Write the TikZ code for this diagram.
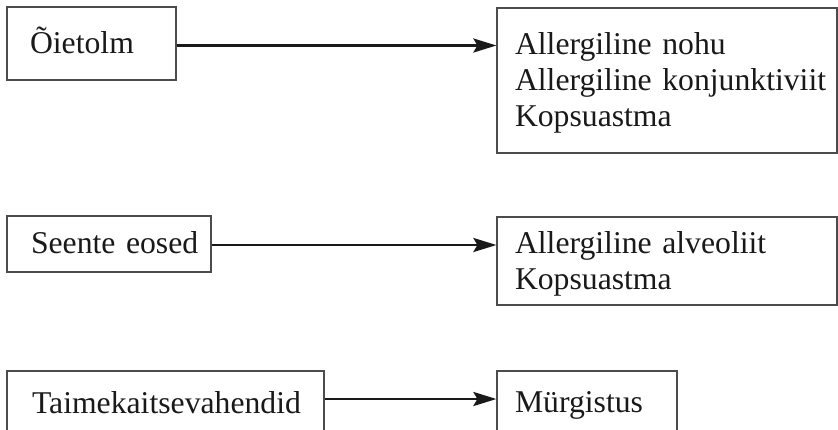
\documentclass[tikz,border=0pt]{standalone}
\usepackage{fontspec}
\setmainfont{Liberation Serif}
\usetikzlibrary{arrows.meta}
\begin{document}
\begin{tikzpicture}[x=1pt,y=-1pt,
  font=\fontsize{31.7}{36}\selectfont,
  box/.style={shape=rectangle,draw=black!70,line width=1.2pt,text=black!90,align=left,inner ysep=0pt},
  link/.style={line width=2.6pt,black!90,-{Stealth[length=23pt,width=14pt,inset=4pt]}}]
 \useasboundingbox (0,0) rectangle (838,429);
 \clip (0,0) rectangle (838,429);
 \node (src 1) at (91.5,43.5) [box,inner xsep=23pt,text width=123pt,text height=46pt,text depth=27pt] {Õietolm};
 \node (eff 1) at (667,80.5) [box,inner xsep=18pt,text width=304pt,text height=46pt,text depth=99pt] {Allergiline nohu\\\mbox{Allergiline konjunktiviit}\\Kopsuastma};
 \node (src 2) at (109,244) [box,inner xsep=24pt,text width=156pt,text height=37pt,text depth=19pt] {\mbox{Seente eosed}};
 \node (eff 2) at (667,261) [box,inner xsep=18pt,text width=304pt,text height=36pt,text depth=52pt] {Allergiline alveoliit\\Kopsuastma};
 \node (src 3) at (165.5,401) [box,inner xsep=25pt,text width=267pt,text height=42pt,text depth=18pt] {Taimekaitsevahendid};
 \node (eff 3) at (587,401) [box,inner xsep=18pt,text width=144pt,text height=41pt,text depth=19pt] {Mürgistus};
 \draw[link] ([yshift=-2pt]src 1.east) -- ([yshift=-2pt]src 1.east -| eff 1.west);
 \draw[link] ([yshift=-1pt]src 2.east) -- ([yshift=-1pt]src 2.east -| eff 2.west);
 \draw[link] ([yshift=2pt]src 3.east) -- ([yshift=2pt]src 3.east -| eff 3.west);
\end{tikzpicture}
\end{document}
